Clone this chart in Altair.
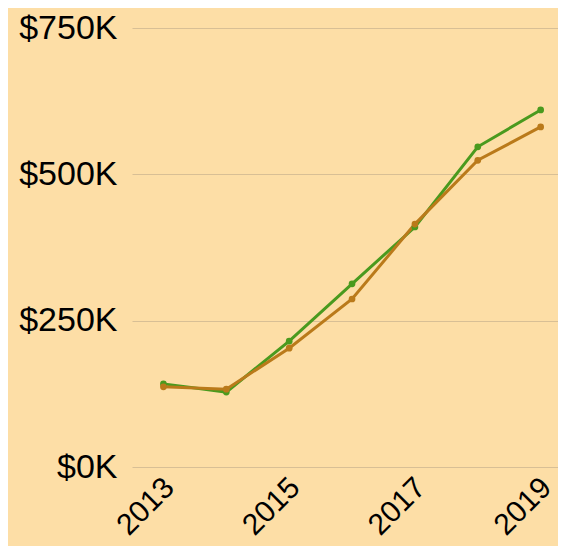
import altair as alt
import pandas as pd

years = [2013, 2014, 2015, 2016, 2017, 2018, 2019]
series_green = [142, 128, 215, 313, 410, 547, 610]   # $K
series_orange = [137, 133, 203, 287, 415, 524, 581]  # $K
series_names = ["Series A", "Series B"]
colors = ["#4A9A1E", "#BA7A1A"]
y_ticks = [0, 250000, 500000, 750000]
x_ticks = [2013, 2015, 2017, 2019]

rows = []
for name, vals in zip(series_names, [series_green, series_orange]):
    for y, v in zip(years, vals):
        rows.append({"year": y, "value": v * 1000, "series": name})
df = pd.DataFrame(rows)

FONT = "Liberation Sans"

base = alt.Chart(df).encode(
    x=alt.X("year:Q",
            scale=alt.Scale(domain=[2012.5, 2019.276], nice=False, zero=False),
            axis=alt.Axis(values=x_ticks, format="d", labelAngle=-45,
                          grid=False, domain=False, ticks=False, title=None,
                          labelFontSize=30, labelFont=FONT, labelColor="#000000",
                          labelPadding=5, labelOffset=-5, labelFlush=False, labelOverlap=False)),
    y=alt.Y("value:Q",
            scale=alt.Scale(domain=[0, 750000], nice=False),
            axis=alt.Axis(values=y_ticks, labelExpr="'$' + format(datum.value/1000, 'd') + 'K'",
                          grid=True, gridColor="#D8BF95", gridWidth=1, domain=False, ticks=False, title=None,
                          labelFontSize=34, labelFont=FONT, labelColor="#000000",
                          labelPadding=15)),
    color=alt.Color("series:N", scale=alt.Scale(domain=series_names, range=colors), legend=None),
)

lines = base.mark_line(strokeWidth=3)
points = base.mark_point(filled=True, size=45, opacity=1)

chart = (lines + points).properties(
    width=426, height=439,
    background="#FDDEA6",
    padding={"left": 124, "top": 20, "right": 0, "bottom": 79},
    autosize=alt.AutoSizeParams(type="none"),
).configure_view(stroke=None)

chart.save("out.html", embed_options={"renderer": "svg", "actions": False})
